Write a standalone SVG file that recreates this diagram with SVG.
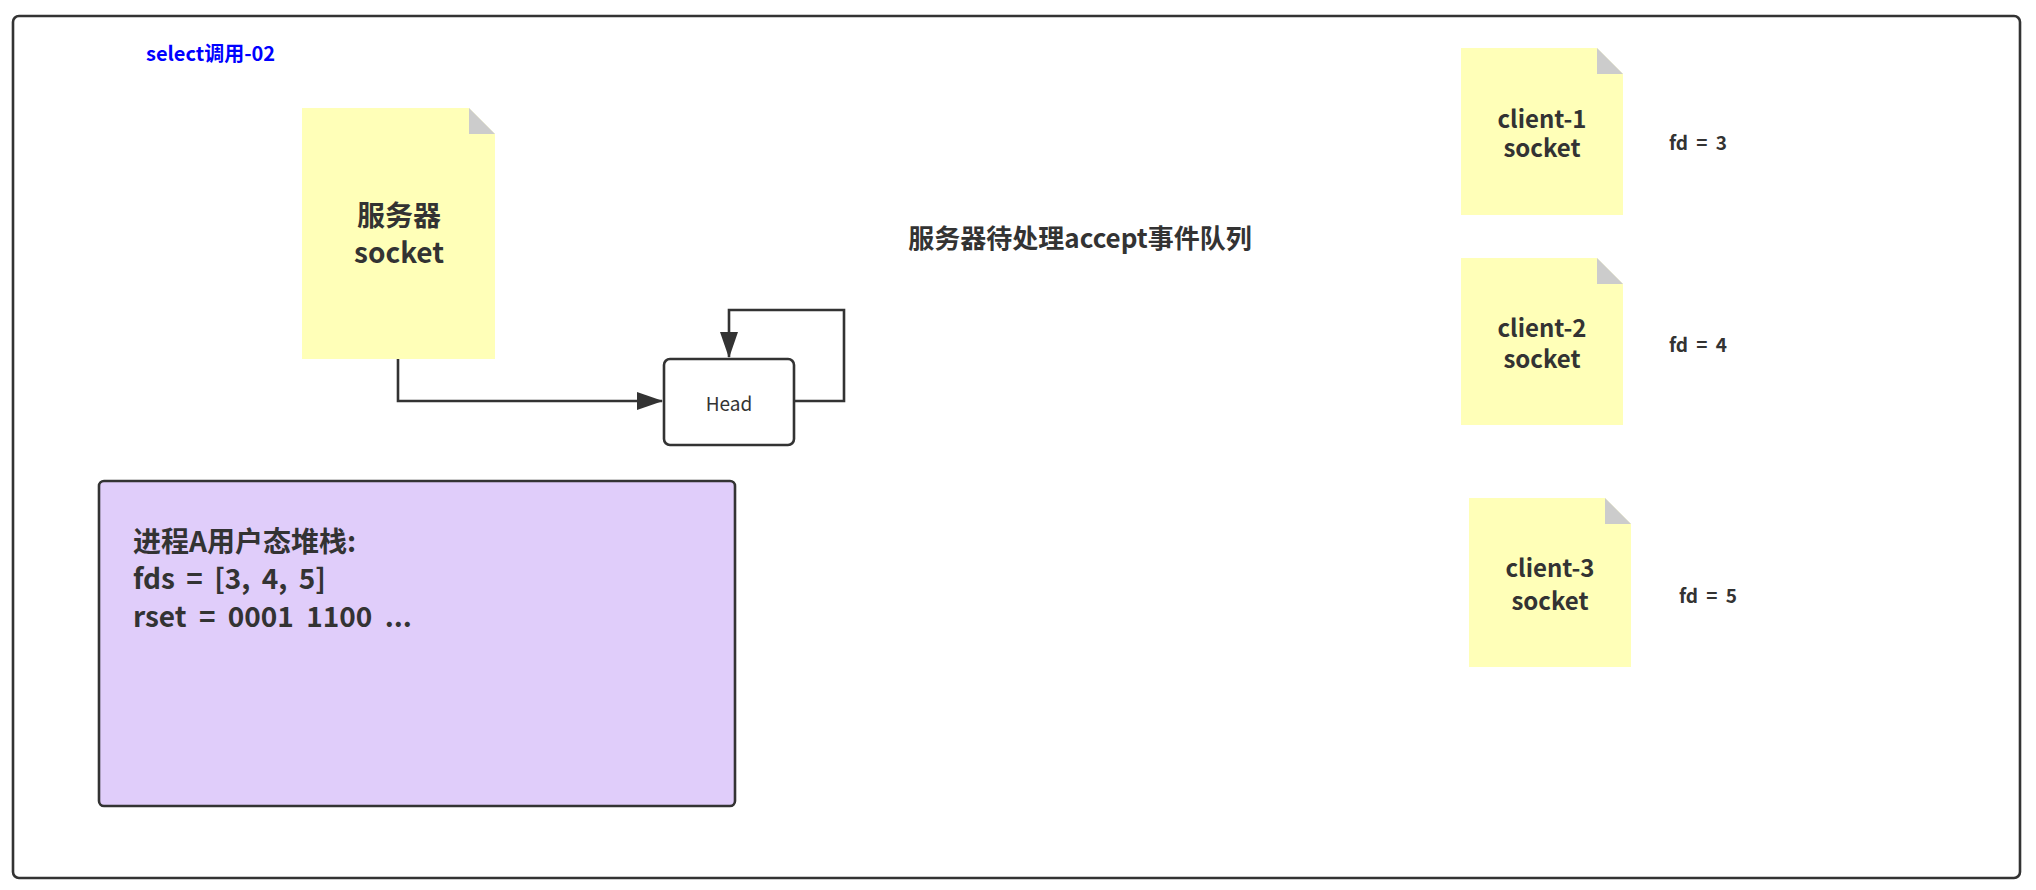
<svg xmlns="http://www.w3.org/2000/svg" width="2036" height="890" viewBox="0 0 2036 890">
<style>
text{font-family:"Noto Sans CJK SC","Noto Sans",sans-serif;fill:#333;text-anchor:middle;font-weight:bold}
.doc{fill:#ffffb8}
.fold{fill:#cccccc}
.ln{fill:none;stroke:#333;stroke-width:2.6}
</style>
<defs><marker id="ah" markerWidth="26" markerHeight="18" refX="25" refY="9" orient="auto" markerUnits="userSpaceOnUse"><path d="M0,0 L26,9 L0,18 Z" fill="#333"/></marker></defs>
<rect x="13" y="16" width="2007" height="862" rx="6" fill="#fff" stroke="#333" stroke-width="2.6"/>
<text x="146" y="61" style="fill:#0000ff;text-anchor:start;font-size:20px">select调用-02</text>
<g id="server"><path class="doc" d="M302,108 H469 L495,134 V359 H302 Z"/><path class="fold" d="M469,108 L495,134 H469 Z"/>
<text x="399" y="226" font-size="28">服务器</text><text x="399" y="263" font-size="28">socket</text></g>
<g id="head"><rect x="664" y="359" width="130" height="86" rx="6" fill="#fff" stroke="#333" stroke-width="2.6"/><text x="729" y="411" font-size="19" style="font-weight:normal">Head</text></g>
<g id="connectors"><path class="ln" d="M398,359 V401 H662" marker-end="url(#ah)"/><path class="ln" d="M794,401 H844 V310 H729 V357" marker-end="url(#ah)"/></g>
<g id="stack"><rect x="99" y="481" width="636" height="325" rx="5" fill="#e0cdfa" stroke="#333" stroke-width="2.6"/>
<text x="133" y="552" font-size="28" style="text-anchor:start">进程A用户态堆栈:</text>
<text x="133" y="589" font-size="28" word-spacing="5" style="text-anchor:start">fds = [3, 4, 5]</text>
<text x="133" y="627" font-size="28" word-spacing="6" style="text-anchor:start">rset = 0001 1100 ...</text></g>
<text x="1080" y="248" font-size="26">服务器待处理accept事件队列</text>
<g id="c1"><path class="doc" d="M1461,48 H1597 L1623,74 V215 H1461 Z"/><path class="fold" d="M1597,48 L1623,74 H1597 Z"/><text x="1542" y="128" font-size="24">client-1</text><text x="1542" y="157" font-size="24">socket</text></g>
<g id="c2"><path class="doc" d="M1461,258 H1597 L1623,284 V425 H1461 Z"/><path class="fold" d="M1597,258 L1623,284 H1597 Z"/><text x="1542" y="337" font-size="24">client-2</text><text x="1542" y="368" font-size="24">socket</text></g>
<g id="c3"><path class="doc" d="M1469,498 H1605 L1631,524 V667 H1469 Z"/><path class="fold" d="M1605,498 L1631,524 H1605 Z"/><text x="1550" y="577" font-size="24">client-3</text><text x="1550" y="610" font-size="24">socket</text></g>
<text x="1698" y="150" font-size="19" word-spacing="4">fd = 3</text>
<text x="1698" y="352" font-size="19" word-spacing="4">fd = 4</text>
<text x="1708" y="603" font-size="19" word-spacing="4">fd = 5</text>
</svg>
